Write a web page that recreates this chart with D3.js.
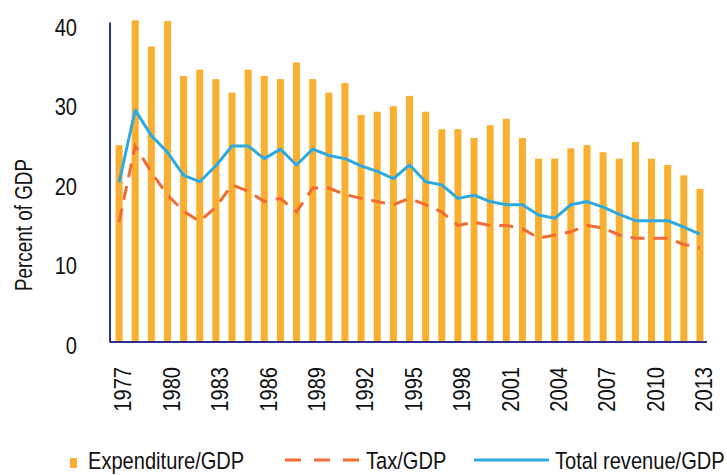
<!DOCTYPE html>
<html>
<head>
<meta charset="utf-8">
<script src="https://cdn.jsdelivr.net/npm/d3@7"></script>
<style>
  html, body { margin: 0; padding: 0; background: #fff; }
  svg { display: block; }
  text { font-family: "Liberation Sans", Arial, sans-serif; fill: #111; }
</style>
</head>
<body>
<script>
const years = ["1977","1978","1979","1980","1981","1982","1983","1984","1985","1986","1987","1988","1989","1990","1991","1992","1993","1994","1995","1996","1997","1998","1999","2000","2001","2002","2003","2004","2005","2006","2007","2008","2009","2010","2011","2012","2013"];
const expenditure = [24.7,40.4,37.1,40.3,33.4,34.2,33.0,31.3,34.2,33.4,33.0,35.1,33.0,31.3,32.5,28.5,28.9,29.6,30.9,28.9,26.7,26.7,25.6,27.2,28.0,25.6,23.0,23.0,24.3,24.7,23.8,23.0,25.1,23.0,22.2,20.9,19.2];
const tax = [15.0,24.6,21.3,18.4,16.4,15.1,16.9,19.7,18.9,17.6,18.0,16.3,19.3,19.3,18.5,18.0,17.6,17.2,18.0,17.2,16.3,14.6,15.0,14.6,14.6,14.2,13.0,13.4,13.8,14.6,14.3,13.4,13.0,13.0,13.0,12.2,11.8];
const revenue = [20.0,29.1,25.9,23.8,20.9,20.1,22.1,24.6,24.6,23.0,24.2,22.2,24.2,23.4,23.0,22.1,21.4,20.5,22.2,20.1,19.7,18.0,18.4,17.6,17.2,17.2,15.9,15.5,17.2,17.6,16.9,16.0,15.2,15.2,15.2,14.4,13.5];
const yTicks = [0,10,20,30,40];
const xTickLabels = ["1977","1980","1983","1986","1989","1992","1995","1998","2001","2004","2007","2010","2013"];
const legendLabels = ["Expenditure/GDP","Tax/GDP","Total revenue/GDP"];
const yTitle = "Percent of GDP";

const W = 727, H = 475;
const colBar = "#FAAF30", colTax = "#F26B30", colRev = "#2DAAE1", colAxis = "#2E3192";
const NARROW = 0.82;

const svg = d3.select("body").append("svg").attr("width", W).attr("height", H);

const x = d3.scaleBand().domain(years).range([111, 708]).paddingInner(0.56).paddingOuter(0.28);
const y = d3.scaleLinear().domain([0, 40]).range([341.5, 23.5]);
const cx = d => x(d) + x.bandwidth() / 2;

// bars
svg.append("g").selectAll("rect").data(years).join("rect")
  .attr("x", d => cx(d) - 3.5)
  .attr("width", 7)
  .attr("y", (d, i) => y(expenditure[i]))
  .attr("height", (d, i) => y(0) - y(expenditure[i]))
  .attr("fill", colBar);

// lines
const line = arr => d3.line().x((d, i) => cx(years[i])).y(d => y(d))(arr);
svg.append("path").attr("d", line(tax)).attr("fill", "none")
  .attr("stroke", colTax).attr("stroke-width", 3).attr("stroke-dasharray", "14,9");
svg.append("path").attr("d", line(revenue)).attr("fill", "none")
  .attr("stroke", colRev).attr("stroke-width", 3).attr("stroke-linejoin", "round");

// y axis
const yAxis = svg.append("g").attr("transform", "translate(110,0)")
  .call(d3.axisLeft(y).tickValues(yTicks).tickSize(0));
yAxis.select(".domain").remove();
yAxis.selectAll(".tick text")
  .attr("x", 0).attr("y", 0).attr("dy", "0.48em")
  .attr("font-size", 24.5).attr("text-anchor", "end")
  .attr("transform", `translate(-33,0) scale(${NARROW},1)`)
  .style("font-family", '"Liberation Sans", Arial, sans-serif').attr("fill", "#111");
svg.append("line").attr("x1", 110).attr("x2", 110).attr("y1", 22.5).attr("y2", 342.5)
  .attr("stroke", colAxis).attr("stroke-width", 2);

// x axis
const xAxis = svg.append("g").attr("transform", "translate(0,342)")
  .call(d3.axisBottom(x).tickValues(xTickLabels).tickSize(0));
xAxis.select(".domain").remove();
xAxis.selectAll(".tick text")
  .attr("font-size", 24.5)
  .attr("text-anchor", "end")
  .attr("transform", `translate(3.5,25) rotate(-90) scale(${NARROW},1)`)
  .attr("x", 0).attr("y", 0).attr("dy", "0.36em")
  .style("font-family", '"Liberation Sans", Arial, sans-serif').attr("fill", "#111");
svg.append("line").attr("x1", 110).attr("x2", 707).attr("y1", 342).attr("y2", 342)
  .attr("stroke", colAxis).attr("stroke-width", 2);

// y title
svg.append("text").attr("transform", `translate(32,225) rotate(-90) scale(${NARROW},1)`)
  .attr("text-anchor", "middle").attr("font-size", 23).text(yTitle);

// legend
const lg = svg.append("g");
const legText = (tx, label) => lg.append("text")
  .attr("transform", `translate(${tx},469) scale(${NARROW},1)`)
  .attr("font-size", 24.5).text(label);
lg.append("rect").attr("x", 70).attr("y", 458).attr("width", 7).attr("height", 10).attr("fill", colBar);
legText(88, legendLabels[0]);
lg.append("line").attr("x1", 285).attr("x2", 360).attr("y1", 460).attr("y2", 460)
  .attr("stroke", colTax).attr("stroke-width", 3).attr("stroke-dasharray", "16,13");
legText(366, legendLabels[1]);
lg.append("line").attr("x1", 474).attr("x2", 549).attr("y1", 460).attr("y2", 460)
  .attr("stroke", colRev).attr("stroke-width", 3);
legText(555, legendLabels[2]);
</script>
</body>
</html>
